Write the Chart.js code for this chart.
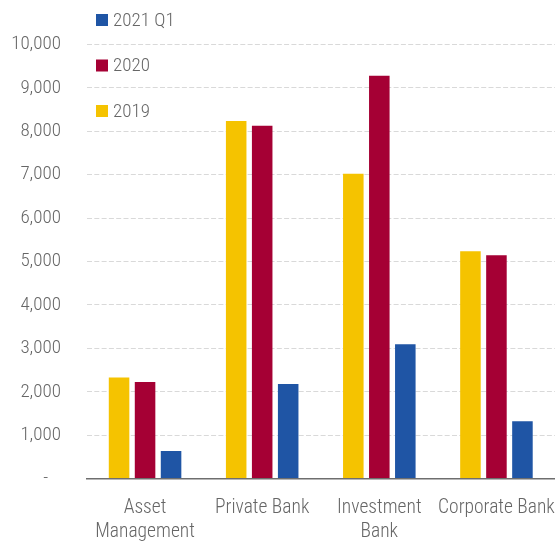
<!DOCTYPE html>
<html>
<head>
<meta charset="utf-8">
<script src="https://cdn.jsdelivr.net/npm/chart.js@4/dist/chart.umd.min.js"></script>
<style>
  html, body { margin: 0; padding: 0; background: #ffffff; }
  #wrap { position: relative; width: 555px; height: 544px; }
</style>
</head>
<body>
<div id="wrap"><canvas id="c"></canvas></div>
<script>
// ---- Data ----
const categories = [['Asset', 'Management'], 'Private Bank', ['Investment', 'Bank'], 'Corporate Bank'];
const seriesLabels = ['2019', '2020', '2021 Q1'];
const values2019 = [2330, 8240, 7020, 5240];
const values2020 = [2225, 8130, 9280, 5145];
const values2021Q1 = [636, 2180, 3095, 1320];
const yTickMin = 0;
const yTickMax = 10000;
const yTickStep = 1000;

// ---- Styling ----
const FONT = "'Roboto Condensed', 'Open Sans', sans-serif";
const FONT_WEIGHT = 300;
const FONT_SIZE = 19;
const X_FONT_SIZE = 19.5;
const TEXT = '#666666';
const colors = ['#F5C300', '#A50034', '#1F55A5'];

// Vertical legend in the top-left (reversed order), drawn from dataset labels/colours
const sideLegend = {
  id: 'sideLegend',
  afterDraw(chart) {
    const ctx = chart.ctx;
    const ds = chart.data.datasets.slice().reverse();
    const x0 = chart.chartArea.left + 9.5;
    const box = 12;
    const step = 45.5;
    const yc0 = 20;
    ctx.save();
    ctx.font = FONT_WEIGHT + ' ' + FONT_SIZE + 'px ' + FONT;
    ctx.textBaseline = 'middle';
    ctx.textAlign = 'left';
    ds.forEach((d, i) => {
      const yc = yc0 + i * step;
      ctx.fillStyle = d.backgroundColor;
      ctx.fillRect(x0, yc - box / 2, box, box);
      ctx.fillStyle = TEXT;
      ctx.fillText(d.label, x0 + box + 5, yc + 1);
    });
    ctx.restore();
  }
};

new Chart(document.getElementById('c'), {
  type: 'bar',
  data: {
    labels: categories,
    datasets: [
      { label: seriesLabels[0], data: values2019, backgroundColor: colors[0] },
      { label: seriesLabels[1], data: values2020, backgroundColor: colors[1] },
      { label: seriesLabels[2], data: values2021Q1, backgroundColor: colors[2] }
    ]
  },
  options: {
    responsive: true,
    maintainAspectRatio: false,
    animation: false,
    devicePixelRatio: 1,
    layout: { padding: { top: 44.5, right: 0, bottom: 0, left: 0 } },
    datasets: {
      bar: { categoryPercentage: 0.666, barPercentage: 0.79 }
    },
    plugins: {
      legend: { display: false },
      tooltip: { enabled: false }
    },
    scales: {
      x: {
        grid: { display: false, drawTicks: false },
        border: { display: true, color: '#6e6e6e', width: 1.6 },
        ticks: {
          color: TEXT,
          font: { family: FONT, size: X_FONT_SIZE, weight: FONT_WEIGHT, lineHeight: 1.22 },
          padding: 17.5,
          maxRotation: 0,
          autoSkip: false
        },
        afterFit(scale) {
          scale.paddingLeft = 0;
          scale.paddingRight = 0;
          scale.height = 544 - 478.6;
        }
      },
      y: {
        min: yTickMin,
        max: yTickMax,
        grid: {
          color: '#d9d9d9',
          lineWidth: 1,
          drawTicks: false
        },
        border: { display: false, dash: [5, 2.3] },
        ticks: {
          stepSize: yTickStep,
          color: TEXT,
          font: { family: FONT, size: FONT_SIZE, weight: FONT_WEIGHT },
          padding: 25.5,
          callback: (v) => v === 0 ? '-   ' : v.toLocaleString('en-US')
        },
        afterFit(scale) {
          scale.width = 86.5;
        }
      }
    }
  },
  plugins: [sideLegend]
});
</script>
</body>
</html>
